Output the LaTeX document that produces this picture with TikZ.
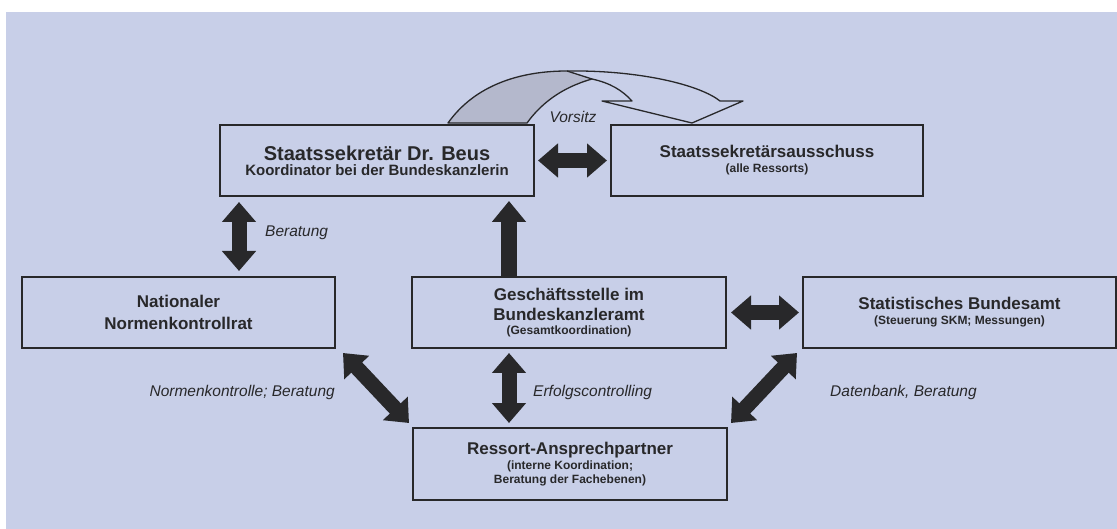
\documentclass[tikz,border=0pt]{standalone}
\usepackage{fontspec}
\setmainfont{Liberation Sans}
\usetikzlibrary{arrows.meta}
\definecolor{bgblue}{RGB}{200,207,232}
\definecolor{ink}{RGB}{40,40,42}
\definecolor{ribbon}{RGB}{180,184,204}
\newcommand{\boxsub}{\fontsize{15}{15}\selectfont\bfseries}
\newcommand{\boxsmall}{\fontsize{12}{13}\selectfont\bfseries}

\begin{document}
\begin{tikzpicture}[x=1pt,y=-1pt,
	box/.style={draw=ink,line width=2pt,minimum width=314pt,minimum height=71pt,inner sep=0pt,align=center,text=ink,
		font=\fontsize{17}{15}\selectfont\bfseries},
	dblarrow/.style={draw=ink,line width=15pt,{Triangle[width=33pt,length=20pt]}-{Triangle[width=33pt,length=20pt]}},
	onearrow/.style={draw=ink,line width=16pt,-{Triangle[width=33pt,length=21pt]}},
	lbl/.style={font=\fontsize{15.5}{17}\selectfont\itshape,text=ink,inner sep=0pt}]
	\useasboundingbox (0,0) rectangle (1117,529);
	\fill[white] (0,0) rectangle (1117,529);
	\fill[bgblue] (6,12) rectangle (1117,529);

	\node[box,font=\fontsize{20}{15}\selectfont\bfseries] (beus) at (377,160.5) {Staatssekretär Dr. Beus\\{\boxsub Koordinator bei der Bundeskanzlerin}};
	\node[box,minimum width=312pt] (ssa) at (767,160.5) {Staatssekretärsausschuss\\{\boxsmall (alle Ressorts)}};
	\node[box,minimum width=313pt,font=\fontsize{17}{22}\selectfont\bfseries] (nkr) at (178.5,312.5) {Nationaler\\Normenkontrollrat};
	\node[box,font=\fontsize{17}{20}\selectfont\bfseries] (gst) at (569,312.5) {Geschäftsstelle im\\Bundeskanzleramt\\[-6pt]{\boxsmall (Gesamtkoordination)}};
	\node[box,minimum width=313pt] (stba) at (959.5,312.5) {Statistisches Bundesamt\\{\boxsmall (Steuerung SKM; Messungen)}};
	\node[box,minimum height=72pt] (rap) at (570,464) {Ressort-Ansprechpartner\\{\boxsmall (interne Koordination;}\\[-1pt]{\boxsmall Beratung der Fachebenen)}};

	\filldraw[fill=ribbon,draw=ink,line width=1.3pt,line join=round] (448,123) .. controls (475,85) and (520,71) .. (567,71) -- (592,79) .. controls (560,88) and (540,105) .. (527,123) -- cycle;
	\draw[ink,line width=1.3pt,line join=round] (567,71) .. controls (640,70) and (700,85) .. (720,101) -- (743,101) -- (692,123) -- (602,101) -- (632,101) .. controls (622,90) and (610,83) .. (592,79);

	\draw[dblarrow] ([xshift=3pt]beus.east) -- ([xshift=-3pt]ssa.west);
	\draw[dblarrow] ([xshift=20pt,yshift=-5pt]beus.south west) -- ([xshift=218pt,yshift=5pt]nkr.north west);
	\draw[onearrow] ([xshift=98pt]gst.north west) -- ([xshift=290pt,yshift=-4pt]beus.south west);
	\draw[dblarrow] ([xshift=4pt]gst.east) -- ([xshift=-3pt]stba.west);
	\draw[dblarrow] ([xshift=98pt,yshift=-4pt]gst.south west) -- ([xshift=97pt,yshift=4pt]rap.north west);
	\draw[dblarrow] ([xshift=7pt,yshift=-4pt]nkr.south east) -- ([xshift=-3pt,yshift=4pt]rap.north west);
	\draw[dblarrow] ([xshift=-5pt,yshift=-4pt]stba.south west) -- ([xshift=3pt,yshift=4pt]rap.north east);

	\node[lbl] (vorsitz) at (573,117) {Vorsitz};
	\node[lbl,anchor=west] (berat) at (265,233) {Beratung};
	\node[lbl,anchor=west] (erfolg) at (533,392) {Erfolgscontrolling};
	\node[lbl,anchor=east] (normk) at (335,392) {Normenkontrolle; Beratung};
	\node[lbl,anchor=west] (datenb) at (830,392) {Datenbank, Beratung};
\end{tikzpicture}
\end{document}
